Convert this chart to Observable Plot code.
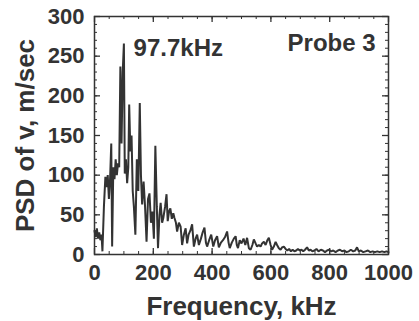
<!DOCTYPE html>
<html>
<head>
<meta charset="utf-8">
<script src="https://cdn.jsdelivr.net/npm/d3@7"></script>
<script src="https://cdn.jsdelivr.net/npm/@observablehq/plot@0.6"></script>
<style>
  html, body { margin: 0; padding: 0; background: #fff; }
</style>
</head>
<body>
<div id="chart"></div>
<script>
// Frequency (kHz) and PSD of v (m/sec)
const freq = [0,4,8,12,16,20,24,27,32,37,41,45,49,53,57,60,64,68,72,76,80,84,88,92,96,100,103,107,111,115,118,122,126,130,134,139,144,149,154,158,162,167,172,177,182,187,192,197,202,207,212,216,221,225,230,234,240,245,249,254,258,263,268,272,277,281,287,293,298,304,310,315,320,326,332,338,344,349,355,362,368,374,379,383,390,397,404,410,417,423,430,437,444,451,456,460,467,474,480,484,488,494,500,507,513,519,525,531,537,542,548,553,559,565,570,576,582,588,593,599,604,610,616,621,627,633,638,644,650,656,662,668,674,680,686,692,698,704,710,716,723,729,735,741,748,755,762,770,777,784,791,798,805,812,820,828,835,842,850,857,865,872,880,887,893,899,906,914,922,930,938,946,954,962,970,978,986,993,1000];
const psd = [30,22,33,20,28,18,25,4,60,98,85,100,70,95,140,10,110,95,120,100,115,110,237,140,230,266,102,120,90,110,189,130,150,80,60,25,120,80,191,100,63,92,60,16,70,77,40,54,20,137,60,8,50,65,40,46,60,76,42,55,58,45,52,46,40,29,40,35,12,25,33,14,25,30,38,10,20,25,12,20,28,34,15,10,18,25,10,18,23,9,15,18,22,29,15,8,15,20,23,12,8,18,14,20,12,21,8,6,12,19,14,10,12,10,14,16,12,18,21,12,6,10,16,12,8,6,9,10,7,5,7,4,6,4,5,7,5,6,4,6,9,5,6,4,5,7,4,6,5,3,5,6,4,5,3,5,6,4,5,3,4,6,4,5,9,4,5,3,4,5,3,4,3,4,3,4,3,4,3];

const xTicks = [0, 200, 400, 600, 800, 1000];
const xMinor = d3.range(0, 1001, 50);
const yTicks = [0, 50, 100, 150, 200, 250, 300];
const yMinor = d3.range(0, 301, 10);

const xTitle = "Frequency, kHz";
const yTitle = "PSD of v, m/sec";
const peakNote = [{text: "97.7kHz", f: 133, v: 250}];
const probeNote = [{text: "Probe 3", f: 956, v: 256}];

const data = freq.map((f, i) => ({f, v: psd[i]}));
const ink = "#333";

const mT = 16, mB = 67, mL = 94, mR = 31, W = 419, Hh = 321;
const iw = W - mL - mR, ih = Hh - mT - mB;
const major = 6, minor = 3;

const chart = Plot.plot({
  width: W,
  height: Hh,
  marginLeft: mL,
  marginRight: mR,
  marginTop: mT,
  marginBottom: mB,
  style: {fontFamily: "'Liberation Sans', Arial, sans-serif", fontWeight: "bold", color: ink, background: "#fff"},
  x: {domain: [0, 1000]},
  y: {domain: [0, 300]},
  marks: [
    Plot.line(data, {x: "f", y: "v", stroke: "#333", strokeWidth: 2, strokeLinejoin: "miter"}),
    // minor ticks (inward) on all sides
    Plot.ruleX(xMinor, {x: d => d, insetTop: ih - minor, stroke: ink}),
    Plot.ruleX(xMinor, {x: d => d, insetBottom: ih - minor, stroke: ink}),
    Plot.ruleY(yMinor, {y: d => d, insetRight: iw - minor, stroke: ink}),
    Plot.ruleY(yMinor, {y: d => d, insetLeft: iw - minor, stroke: ink}),
    // major ticks (inward)
    Plot.ruleX(xTicks, {x: d => d, insetTop: ih - major, stroke: ink, strokeWidth: 1.3}),
    Plot.ruleX(xTicks, {x: d => d, insetBottom: ih - major, stroke: ink, strokeWidth: 1.3}),
    Plot.ruleY(yTicks, {y: d => d, insetRight: iw - major, stroke: ink, strokeWidth: 1.3}),
    Plot.ruleY(yTicks, {y: d => d, insetLeft: iw - major, stroke: ink, strokeWidth: 1.3}),
    // tick labels
    Plot.axisX(xTicks, {anchor: "bottom", tickSize: 0, tickPadding: 10, fontSize: 22, fill: ink, label: null, tickFormat: d => String(d)}),
    Plot.axisY(yTicks, {anchor: "left", tickSize: 0, tickPadding: 10, fontSize: 22, fill: ink, label: null, tickFormat: d => String(d)}),
    Plot.frame({stroke: ink, strokeWidth: 1.5}),
    // axis titles
    Plot.text([xTitle], {frameAnchor: "bottom", lineAnchor: "bottom", dy: 60, fontSize: 26, fill: ink, text: d => d}),
    Plot.text([yTitle], {frameAnchor: "left", textAnchor: "middle", lineAnchor: "bottom", rotate: -90, dx: -61, fontSize: 26, fill: ink, text: d => d}),
    // annotations
    Plot.text(peakNote, {x: "f", y: "v", text: "text", textAnchor: "start", lineAnchor: "bottom", fontSize: 24, fill: ink}),
    Plot.text(probeNote, {x: "f", y: "v", text: "text", textAnchor: "end", lineAnchor: "bottom", fontSize: 24, fill: ink})
  ]
});
document.getElementById("chart").appendChild(chart);
</script>
</body>
</html>
